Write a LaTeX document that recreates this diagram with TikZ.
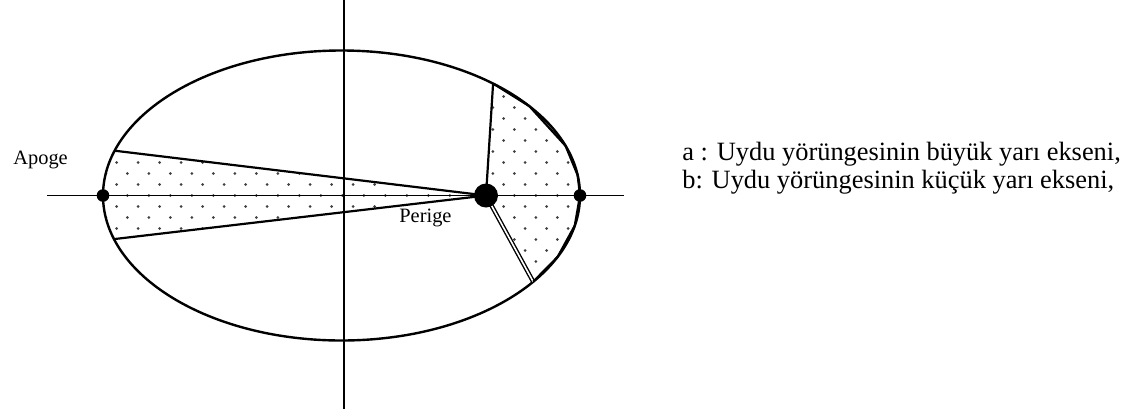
\documentclass[tikz,border=0pt]{standalone}
\usepackage{fontspec}
\setmainfont{Liberation Serif}
\usetikzlibrary{positioning}

\begin{document}
\begin{tikzpicture}[x=0.5pt, y=-0.5pt,
    orbit/.style={line width=1.2pt},
    axisline/.style={line width=0.9pt},
    edge/.style={line width=1.1pt},
    twin/.style={double, line width=0.7pt, double distance=0.8pt},
    dotc/.style={fill=black!75},
    apsis/.style={circle, fill=black, inner sep=0pt, minimum size=6.3pt},
    focus/.style={circle, fill=black, inner sep=0pt, minimum size=12pt},
    lbl/.style={inner sep=0pt, anchor=base west, font=\fontsize{10.2}{12}\selectfont},
    note/.style={inner sep=0pt, anchor=base west, font=\fontsize{13.2}{16}\selectfont}]

    \useasboundingbox (0,0) rectangle (1121,414);

    \coordinate (c) at (341.5,195.5);
    \coordinate (F) at (486,195.5);
    \coordinate (l1) at (114.7,150.7);
    \coordinate (l2) at (114.0,239.1);
    \coordinate (p1) at (493.1,83.5);
    \coordinate (p2) at (533.2,281.7);
    \coordinate (r1) at (529.4,106.2);
    \coordinate (r2) at (565.6,145.9);
    \coordinate (r3) at (577.7,175.3);
    \coordinate (r4) at (580,195.5);
    \coordinate (r5) at (574.8,225.6);
    \coordinate (r6) at (557.7,256.8);
    \coordinate (xl) at (47,195.5);
    \coordinate (xr) at (624,195.5);
    \coordinate (yt) at (344,0);
    \coordinate (yb) at (344,409);

    \begin{scope}
        \clip (F) -- (l1) arc[start angle=-162, end angle=-197.5, x radius=238.5, y radius=145] -- cycle;
        \foreach \j in {-7,...,7} \foreach \i in {-1,...,23} {
            \fill[dotc] (127.3+21.5*\i,195.5+22*\j) circle[radius=1.5];
            \fill[dotc] (116.55+21.5*\i,206.5+22*\j) circle[radius=1.5];
        }
    \end{scope}
    \begin{scope}
        \clip (F) -- (p1) -- (r1) -- (r2) -- (r3) -- (r4) -- (r5) -- (r6) -- (p2) -- cycle;
        \foreach \j in {-7,...,7} \foreach \i in {-1,...,23} {
            \fill[dotc] (127.3+21.5*\i,195.5+22*\j) circle[radius=1.5];
            \fill[dotc] (116.55+21.5*\i,206.5+22*\j) circle[radius=1.5];
        }
    \end{scope}

    \draw[orbit] (c) ellipse[x radius=238.5, y radius=145];
    \draw[axisline] (xl) -- (xr);
    \draw[axisline] (yt) -- (yb);

    \draw[edge] (F) -- (l1);
    \draw[edge] (F) -- (l2);
    \draw[edge] (F) -- (p1);
    \draw[twin] (F) -- (p2);
    \draw[edge] (p1) -- (r1) -- (r2) -- (r3) -- (r4) -- (r5) -- (r6) -- (p2);

    \node[apsis] (apogee) at (103,195.5) {};
    \node[apsis] (perigee) at (580,195.5) {};
    \node[focus] (earth) at (F) {};

    \node[lbl] (apogetext) at (13,164) {Apoge};
    \node[lbl] (perigetext) at (399,222) {Perige};
    \node[note] (aline) at (682,160) {a : Uydu yörüngesinin büyük yarı ekseni,};
    \node[note] (bline) at (682,188) {b: Uydu yörüngesinin küçük yarı ekseni,};
\end{tikzpicture}
\end{document}
